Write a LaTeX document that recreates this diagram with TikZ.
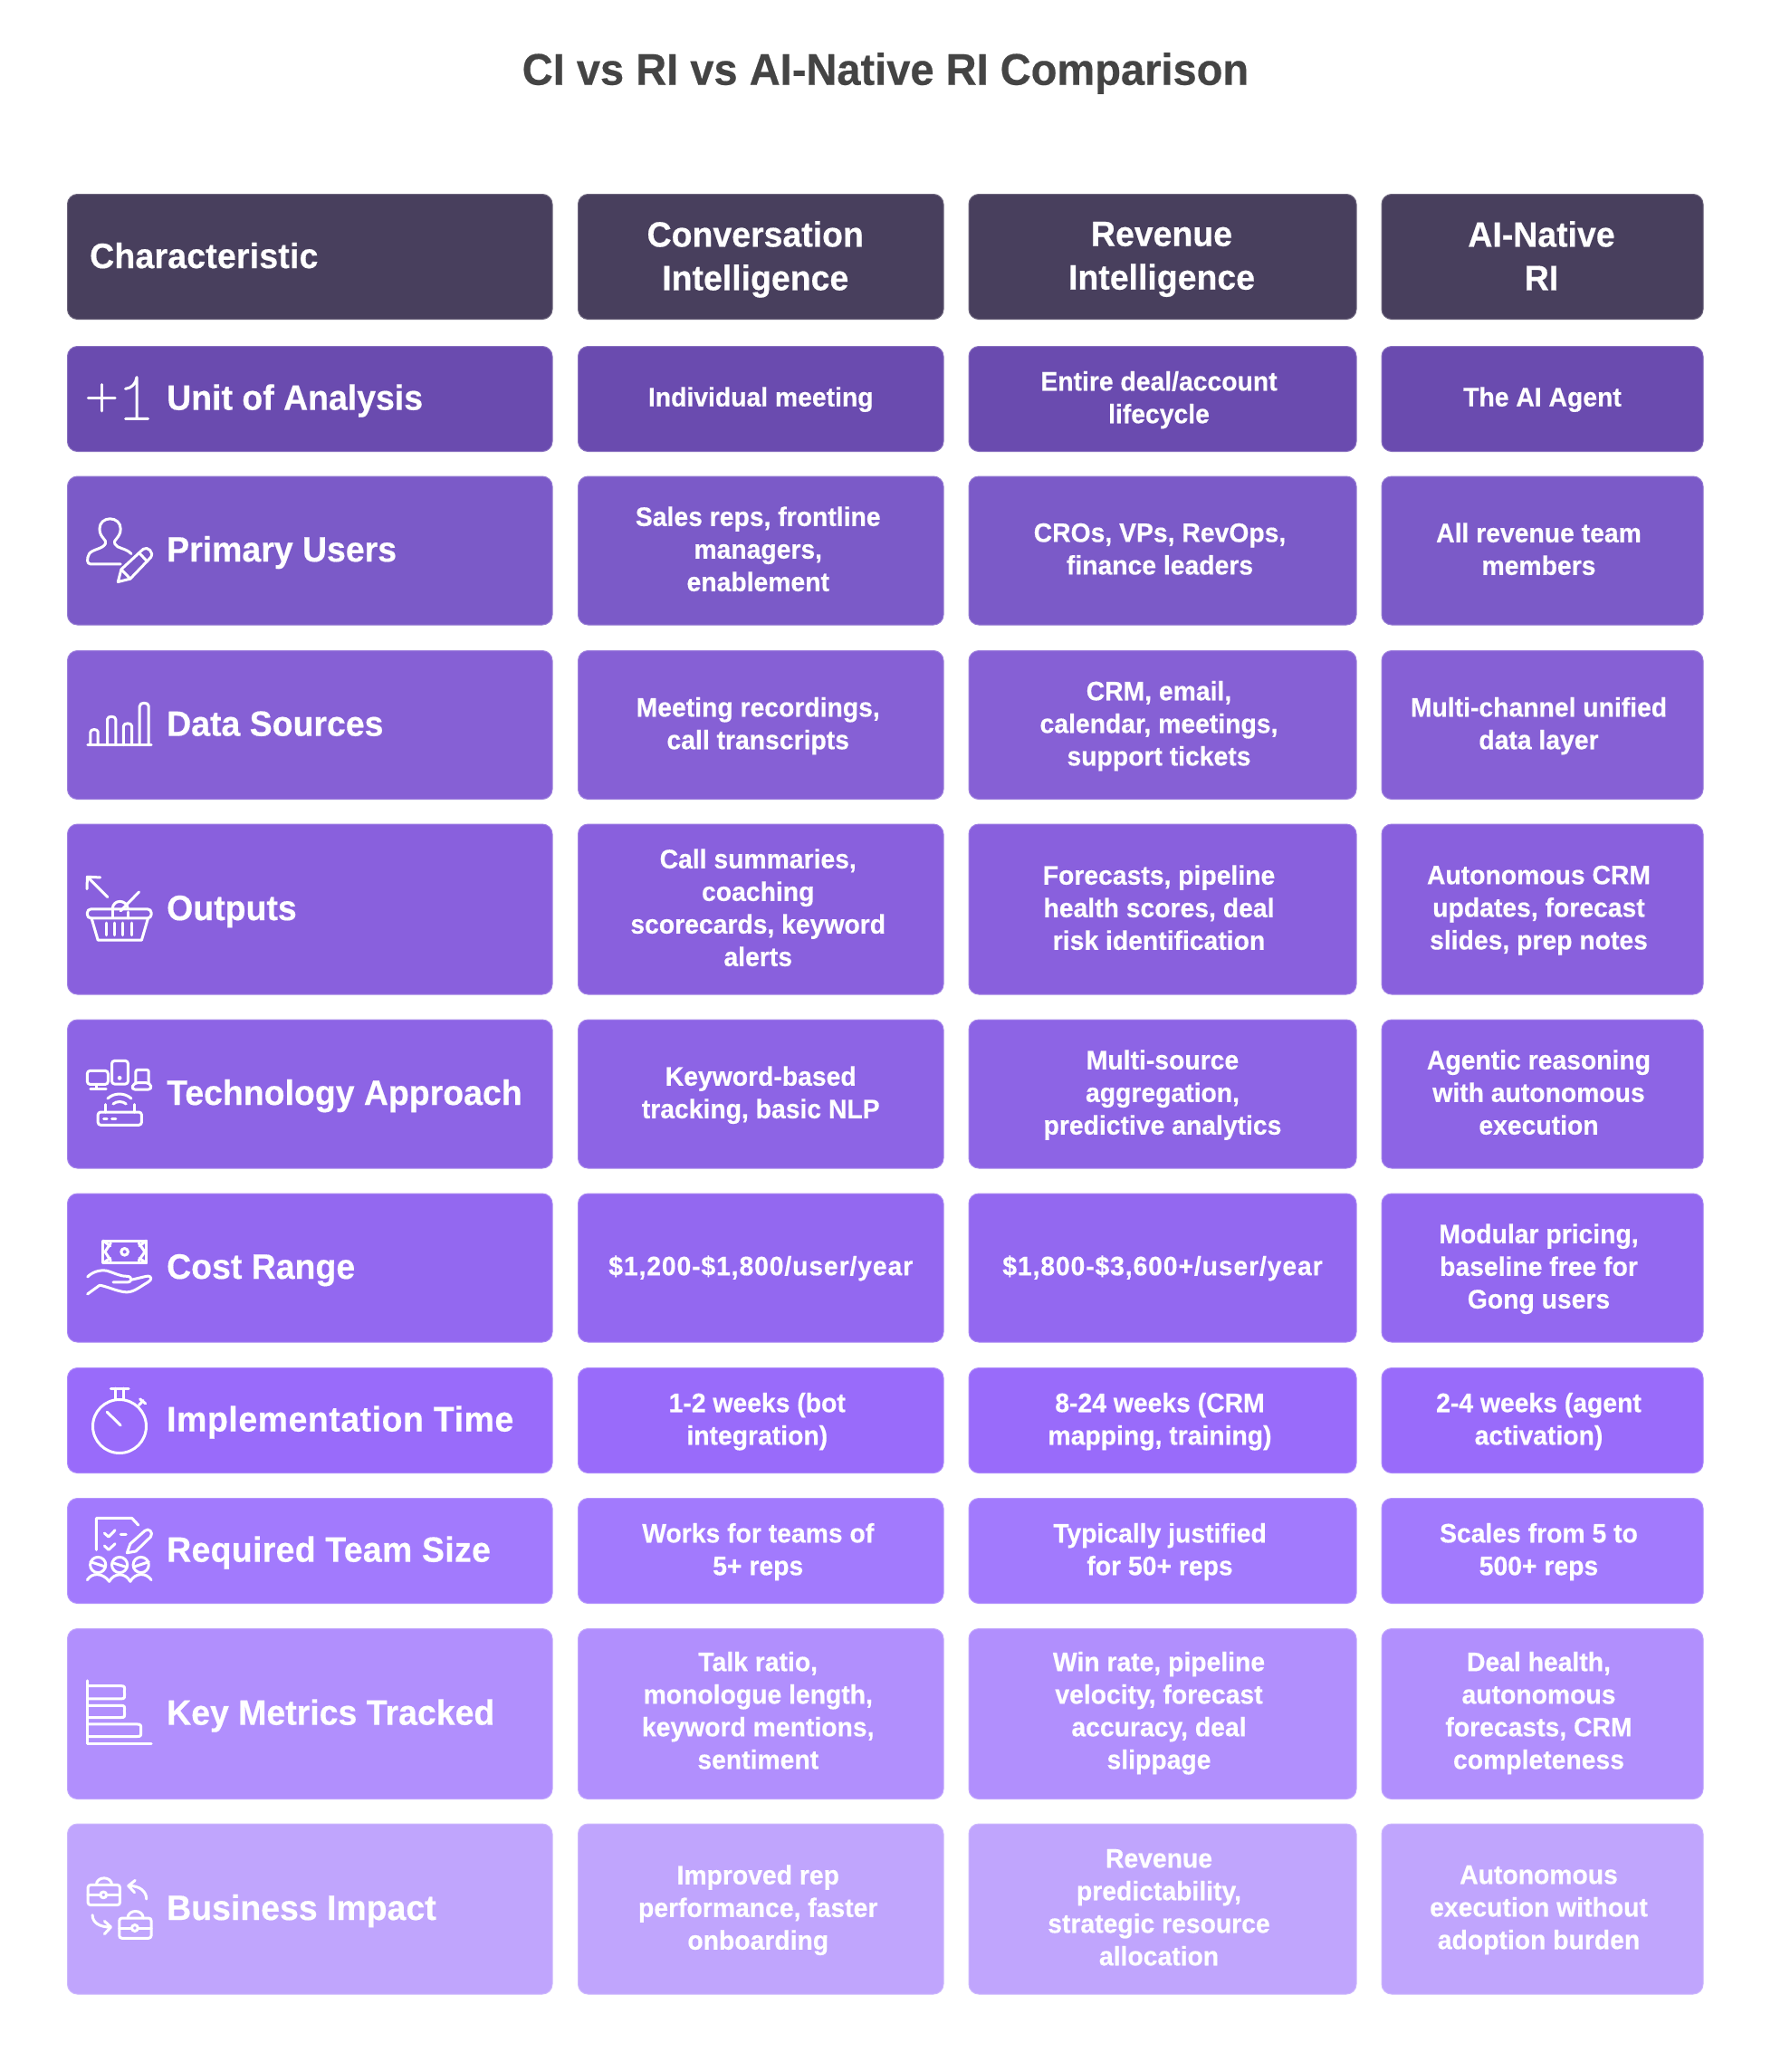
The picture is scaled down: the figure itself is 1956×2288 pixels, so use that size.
\documentclass[tikz,border=0pt]{standalone}
\usepackage{fontspec}
\setmainfont{Liberation Sans}[FakeStretch=0.96,FakeBold=0.4]
\definecolor{chead}{HTML}{483F5D}
\definecolor{cA}{HTML}{6A4BAF}
\definecolor{cB}{HTML}{7B5AC8}
\definecolor{cC}{HTML}{8660D5}
\definecolor{cD}{HTML}{8960DD}
\definecolor{cE}{HTML}{8D64E5}
\definecolor{cF}{HTML}{9368F0}
\definecolor{cG}{HTML}{996BFA}
\definecolor{cH}{HTML}{A27AFD}
\definecolor{cI}{HTML}{B18FFD}
\definecolor{cJ}{HTML}{C0A5FD}
\definecolor{ctitle}{HTML}{444444}
\tikzset{
  cellbg/.style={rectangle,rounded corners=11pt,inner sep=0pt,line width=1pt,anchor=north west},
  bodytxt/.style={text=white,align=center,inner sep=0pt,font=\fontsize{29.5}{36}\selectfont\bfseries,
    execute at begin node=\strut,execute at end node=\strut},
  headtxt/.style={text=white,align=center,inner sep=0pt,font=\fontsize{39}{48}\selectfont\bfseries,
    execute at begin node=\strut,execute at end node=\strut},
  labeltxt/.style={text=white,anchor=west,inner sep=0pt,font=\fontsize{39}{48}\selectfont\bfseries,
    execute at begin node=\strut},
  titletxt/.style={text=ctitle,inner sep=0pt,font=\fontsize{49}{56}\selectfont\bfseries},
  ico/.style={draw=white,line width=3pt,line cap=round,line join=round},
}
% name, x, y, w, h, colour
\newcommand{\cellrect}[6]{\node[cellbg,fill=#6,draw=#6!80!white,minimum width=#4pt,minimum height=#5pt] (#1) at (#2,#3) {};}
% row: name, y, h, colour
\newcommand{\rowrects}[4]{%
  \cellrect{#1a}{74}{#2}{535.5}{#3}{#4}
  \cellrect{#1b}{638}{#2}{403.5}{#3}{#4}
  \cellrect{#1c}{1069.5}{#2}{428}{#3}{#4}
  \cellrect{#1d}{1525.5}{#2}{355}{#3}{#4}
}
% cell text: name, xshift, text (several lines / one line / tall four-line row)
\newcommand{\ctext}[3]{\node[bodytxt,xshift=#2pt,yshift=-3.5pt] (#1t) at (#1) {#3};}
\newcommand{\stext}[3]{\node[bodytxt,xshift=#2pt,yshift=-1pt] (#1t) at (#1) {#3};}
\newcommand{\ktext}[3]{\node[bodytxt,xshift=#2pt,yshift=-1.5pt] (#1t) at (#1) {#3};}
\newcommand{\ltext}[2]{\node[labeltxt,yshift=-2.5pt] (#1t) at (184,0|-#1.center) {#2};}
\begin{document}
\begin{tikzpicture}[x=1pt,y=-1pt]
\useasboundingbox (0,0) rectangle (1956,2288);
\fill[white] (0,0) rectangle (1956,2288);
\node[titletxt] (title) at (978,81) {CI vs RI vs AI-Native RI Comparison};

\rowrects{h}{214}{138}{chead}
\rowrects{ra}{382}{116}{cA}
\rowrects{rb}{525.5}{164}{cB}
\rowrects{rc}{718}{164}{cC}
\rowrects{rd}{909.5}{188}{cD}
\rowrects{re}{1125.5}{164}{cE}
\rowrects{rf}{1317.5}{164}{cF}
\rowrects{rg}{1510}{116}{cG}
\rowrects{rh}{1654}{116}{cH}
\rowrects{ri}{1798}{188}{cI}
\rowrects{rj}{2013.5}{188}{cJ}

\node[labeltxt,yshift=-3pt] (hat) at (99,0|-ha.center) {\addfontfeature{LetterSpace=0.5}Characteristic};
\node[headtxt,xshift=-6pt,yshift=-6pt] (hbt) at (hb) {Conversation\\Intelligence};
\node[headtxt,xshift=-1pt,yshift=-6pt] (hct) at (hc) {Revenue\\Intelligence};
\node[headtxt,xshift=-1pt,yshift=-6pt] (hdt) at (hd) {AI-Native\\RI};

\ltext{raa}{Unit of Analysis}
\stext{rab}{0}{Individual meeting}
\ctext{rac}{-4}{Entire deal/account\\lifecycle}
\stext{rad}{0}{The AI Agent}

\ltext{rba}{Primary Users}
\ctext{rbb}{-3}{Sales reps, frontline\\managers,\\enablement}
\ctext{rbc}{-3}{CROs, VPs, RevOps,\\finance leaders}
\ctext{rbd}{-4}{All revenue team\\members}

\ltext{rca}{Data Sources}
\ctext{rcb}{-3}{Meeting recordings,\\call transcripts}
\ctext{rcc}{-4}{CRM, email,\\calendar, meetings,\\support tickets}
\ctext{rcd}{-4}{Multi-channel unified\\data layer}

\ltext{rda}{Outputs}
\ctext{rdb}{-3}{Call summaries,\\coaching\\scorecards, keyword\\alerts}
\ctext{rdc}{-4}{Forecasts, pipeline\\health scores, deal\\risk identification}
\ctext{rdd}{-4}{Autonomous CRM\\updates, forecast\\slides, prep notes}

\ltext{rea}{Technology Approach}
\ctext{reb}{0}{Keyword-based\\tracking, basic NLP}
\ctext{rec}{0}{Multi-source\\aggregation,\\predictive analytics}
\ctext{red}{-4}{Agentic reasoning\\with autonomous\\execution}

\ltext{rfa}{Cost Range}
\stext{rfb}{0}{\addfontfeature{LetterSpace=3}\$1,200-\$1,800/user/year}
\stext{rfc}{0}{\addfontfeature{LetterSpace=3}\$1,800-\$3,600+/user/year}
\ctext{rfd}{-4}{Modular pricing,\\baseline free for\\Gong users}

\ltext{rga}{\addfontfeature{LetterSpace=1.4}Implementation Time}
\ctext{rgb}{-4}{1-2 weeks (bot\\integration)}
\ctext{rgc}{-3}{8-24 weeks (CRM\\mapping, training)}
\ctext{rgd}{-4}{2-4 weeks (agent\\activation)}

\ltext{rha}{\addfontfeature{LetterSpace=0.8}Required Team Size}
\ctext{rhb}{-3}{Works for teams of\\5+ reps}
\ctext{rhc}{-3}{Typically justified\\for 50+ reps}
\ctext{rhd}{-4}{Scales from 5 to\\500+ reps}

\ltext{ria}{Key Metrics Tracked}
\ktext{rib}{-3}{Talk ratio,\\monologue length,\\keyword mentions,\\sentiment}
\ktext{ric}{-4}{Win rate, pipeline\\velocity, forecast\\accuracy, deal\\slippage}
\ktext{rid}{-4}{Deal health,\\autonomous\\forecasts, CRM\\completeness}

\ltext{rja}{Business Impact}
\ctext{rjb}{-3}{Improved rep\\performance, faster\\onboarding}
\ctext{rjc}{-4}{Revenue\\predictability,\\strategic resource\\allocation}
\ctext{rjd}{-4}{Autonomous\\execution without\\adoption burden}

% --- icons (coordinates read from enlarged crops) ---
\begin{scope}[shift={(60,370)},x=0.357pt,y=-0.345pt,ico]
  % unit of analysis
  \draw (105,200)--(188,200) (147,158)--(147,243);
  \draw (220,172)..controls (240,170) and (252,155)..(255,135)--(255,268) (220,268)--(290,268);
  % primary users
  \draw (205,733)--(112,733)..controls (100,733) and (100,715)..(108,700)..controls (118,685) and (150,685)..(158,668)
    ..controls (165,655) and (140,650)..(140,620)..controls (140,600) and (155,588)..(172,588)
    ..controls (190,588) and (205,600)..(205,620)..controls (205,650) and (180,655)..(187,668)
    ..controls (195,685) and (220,680)..(238,700);
  \draw (197,790)--(207,750)--(275,685)..controls (288,675) and (310,695)..(298,712)--(235,780)--cycle;
  \draw (207,750)--(235,780) (262,697)--(288,725);
  % data sources
  \draw (103,1312)--(300,1312);
  \draw (112,1312)--(112,1270)..controls (112,1260) and (135,1260)..(135,1270)--(135,1312);
  \draw (164,1312)--(164,1230)..controls (164,1218) and (190,1218)..(190,1230)--(190,1312);
  \draw (214,1312)--(214,1252)..controls (214,1240) and (240,1240)..(240,1252)--(240,1312);
  \draw (264,1312)--(264,1188)..controls (264,1174) and (292,1174)..(292,1188)--(292,1312);
\end{scope}

\begin{scope}[shift={(60,900)},x=0.357pt,y=-0.333pt,ico]
  % outputs
  \draw (165,272)--(105,208) (101,245)--(102,205)--(142,207);
  \draw (262,255)--(205,318);
  \draw (180,312)..controls (180,278) and (225,278)..(228,312);
  \draw[rounded corners=4pt] (102,312) rectangle (300,342);
  \draw (180,312)--(180,340) (228,322)--(228,342);
  \draw (115,342)--(135,415)--(270,415)--(290,342);
  \draw (162,358)--(162,398) (187,358)--(187,398) (212,358)--(212,398) (240,358)--(240,398);
  % technology approach
  \draw[rounded corners=3pt] (102,848) rectangle (166,893);
  \draw (130,893)--(130,908) (112,908)--(160,908);
  \draw[rounded corners=3pt] (178,815) rectangle (228,892);
  \fill[white] (202,872) circle[radius=2.4pt];
  \draw[rounded corners=2pt] (252,888)--(252,845)--(292,845)--(292,888);
  \draw[rounded corners=4pt] (246,888)--(238,910)--(302,910)--(296,888)--cycle;
  \draw (165,940)..controls (185,920) and (218,920)..(238,940);
  \draw (182,958)..controls (192,948) and (212,948)..(222,958);
  \draw[rounded corners=3pt] (135,985) rectangle (270,1028);
  \draw (157,985)--(157,960) (247,985)--(247,960);
  \draw (153,1008)--(163,1008) (178,1008)--(190,1008);
\end{scope}

\begin{scope}[shift={(90,1360)},x=0.333pt,y=-0.333pt,ico]
  % cost range
  \draw (72,30) rectangle (215,104);
  \draw (143,67) circle[radius=3.8pt];
  \draw (97,38)--(78,67)--(97,96) (190,38)--(210,67)--(190,96);
  \draw (72,30)--(95,48) (215,30)--(192,48) (72,104)--(95,88) (215,104)--(192,88);
  \draw (20,150)..controls (35,135) and (60,125)..(85,130)..controls (105,135) and (125,148)..(150,148)
    ..controls (170,148) and (170,168)..(150,168)--(105,168);
  \draw (165,160)--(215,148)..controls (235,145) and (235,160)..(220,168)..controls (190,185) and (170,205)..(140,200)
    ..controls (110,195) and (80,180)..(60,178)--(20,207);
\end{scope}

\begin{scope}[shift={(60,1400)},x=0.357pt,y=-0.333pt,ico]
  % implementation time
  \draw (175,400)--(230,400) (190,400)--(190,435) (215,400)--(215,435);
  \draw (262,455)--(275,440) (265,435)--(282,450);
  \draw (163,478)--(205,522);
  % required team size
  \draw (130,935)--(130,830)--(240,830)--(260,853);
  \draw (155,880)--(168,892)--(188,870) (205,884)--(222,884) (155,922)--(168,935)--(188,915);
  \draw (225,945)--(235,915)--(280,872)..controls (292,860) and (308,878)..(298,892)--(252,940)--cycle;
  \draw (135,985) circle[radius=8.6pt] (202,985) circle[radius=8.6pt] (268,985) circle[radius=8.6pt];
  \draw (112,975)--(155,990) (180,978)--(222,992) (250,990)--(292,975);
  \draw (102,1035)..controls (115,1010) and (150,1010)..(170,1040)..controls (185,1010) and (220,1010)..(235,1040)
    ..controls (250,1010) and (285,1010)..(300,1035);
\end{scope}
\draw[ico] (132,1575) circle[radius=29.5pt];

\begin{scope}[shift={(60,1780)},x=0.357pt,y=-0.333pt,ico]
  % key metrics
  \draw (103,228)--(103,438)--(300,438);
  \draw (103,245)--(205,245)..controls (220,245) and (217,250)..(217,262)..controls (217,285) and (220,288)..(205,288)--(103,288);
  \draw (103,310)--(205,310)..controls (220,310) and (217,315)..(217,328)..controls (217,348) and (220,350)..(205,350)--(103,350);
  \draw (103,372)--(255,372)..controls (270,372) and (268,377)..(268,392)..controls (268,410) and (270,413)..(255,413)--(103,413);
  % business impact
  \draw[rounded corners=3pt] (104,905) rectangle (203,972);
  \draw (130,905)..controls (130,875) and (178,875)..(178,905);
  \draw (104,938)--(141,938) (164,938)--(203,938);
  \draw (152,938) circle[radius=3.4pt];
  \draw[rounded corners=3pt] (201,1015) rectangle (300,1082);
  \draw (227,1015)..controls (227,985) and (275,985)..(275,1015);
  \draw (201,1048)--(238,1048) (261,1048)--(300,1048);
  \draw (249,1048) circle[radius=3.4pt];
  \draw (285,952)..controls (285,925) and (262,908)..(232,908) (250,890)--(229,908)--(248,930);
  \draw (118,1005)..controls (118,1030) and (140,1045)..(172,1045) (155,1025)--(175,1045)--(155,1068);
\end{scope}
\end{tikzpicture}
\end{document}
